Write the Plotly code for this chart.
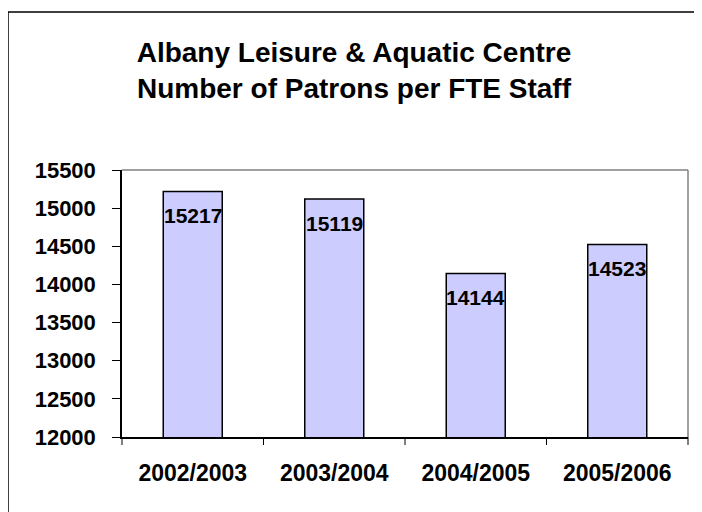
import plotly.graph_objects as go

categories = ["2002/2003", "2003/2004", "2004/2005", "2005/2006"]
values = [15217, 15119, 14144, 14523]
y_ticks = [12000, 12500, 13000, 13500, 14000, 14500, 15000, 15500]
y_tick_labels = [f"<b>{v}</b>" for v in y_ticks]

FONT = "Liberation Sans, Arial, sans-serif"

# page body has an 8px margin, so figure is 694x504 and fills the 702x512 window
W, H = 694, 504
L, R, T, B = 114, 14, 162, 75

fig = go.Figure(go.Bar(
    x=categories,
    y=values,
    width=0.417,
    marker=dict(color="#CCCCFF", line=dict(color="black", width=1.5)),
    textposition="none",
    hoverinfo="x+y",
))

# value labels inside the top of each bar
for c, v in zip(categories, values):
    fig.add_annotation(x=c, y=v, xref="x", yref="y", text=f"<b>{v}</b>",
                       showarrow=False, yanchor="middle", yshift=-24,
                       font=dict(family=FONT, size=21, color="black"))

fig.update_layout(
    width=W, height=H,
    margin=dict(l=L, r=R, t=T, b=B),
    paper_bgcolor="white", plot_bgcolor="white",
    showlegend=False,
    title=dict(
        text="<b>Albany Leisure & Aquatic Centre<br>Number of Patrons per FTE Staff</b>",
        x=(354 - 8) / W, xanchor="center", y=1 - (62 - 8) / H, yanchor="middle",
        font=dict(family=FONT, size=28, color="black"),
    ),
)

fig.update_xaxes(
    showline=True, linecolor="black", linewidth=1.5,
    ticks="outside", ticklen=15, tickcolor="rgba(0,0,0,0)",
    tickfont=dict(family=FONT, size=23, color="black"),
    tickprefix="<b>", ticksuffix="</b>",
    showgrid=False,
)
fig.update_yaxes(
    range=[12000, 15500], tickvals=y_ticks, ticktext=y_tick_labels,
    showline=True, linecolor="black", linewidth=1.5,
    ticks="outside", ticklen=8, tickcolor="black", tickwidth=1,
    ticklabelstandoff=12,
    tickfont=dict(family=FONT, size=22, color="black"),
    showgrid=False, zeroline=False,
)

# category-boundary tick marks on the x axis
for i in range(len(categories) + 1):
    fig.add_shape(type="line", xref="x domain", yref="paper",
                  x0=i / len(categories), x1=i / len(categories),
                  y0=0, y1=-8 / (H - T - B), line=dict(color="black", width=1))

# gray frame at top and right of plot area
fig.add_shape(type="line", xref="paper", yref="paper", x0=0, x1=1, y0=1, y1=1,
              line=dict(color="#808080", width=1.5))
fig.add_shape(type="line", xref="paper", yref="paper", x0=1, x1=1, y0=0, y1=1,
              line=dict(color="#808080", width=1.5))

# outer chart border (runs off the picture on the right and bottom)
pw, ph = W - L - R, H - T - B
fig.add_shape(type="rect", xref="paper", yref="paper",
              x0=(0 - L) / pw, x1=1.2, y0=-0.4, y1=(ph + T - 4) / ph,
              line=dict(color="black", width=1.5), fillcolor="rgba(0,0,0,0)")

fig.write_html("out.html")
